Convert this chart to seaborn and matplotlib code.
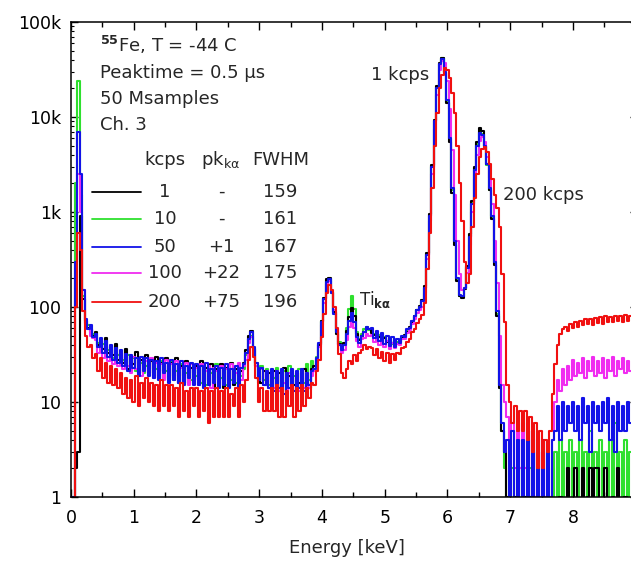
import numpy as np
import pandas as pd
import matplotlib
matplotlib.use('Agg')
import matplotlib.pyplot as plt
import seaborn as sns
from matplotlib.ticker import FixedLocator, FixedFormatter, LogLocator, MultipleLocator, NullFormatter

# spectra, one value per 0.04 keV channel (rows of 10 channels = 0.4 keV)
channel_kev = 0.04

counts_1 = [
    0, 0, 2, 3, 900, 120, 72, 60, 58, 50,
    55, 40, 44, 36, 47, 33, 39, 31, 41, 28,
    33, 26, 36, 22, 30, 25, 34, 20, 28, 24,
    31, 20, 27, 22, 30, 18, 26, 21, 29, 17,
    26, 19, 29, 16, 24, 19, 27, 16, 23, 20,
    24, 17, 27, 15, 23, 17, 25, 14, 22, 18,
    25, 14, 23, 17, 26, 15, 22, 19, 21, 26,
    35, 50, 56, 36, 24, 19, 16, 21, 15, 20,
    15, 21, 13, 20, 16, 23, 13, 19, 17, 15,
    20, 16, 14, 22, 16, 14, 22, 24, 28, 40,
    72, 125, 195, 200, 145, 88, 52, 41, 38, 42,
    56, 78, 98, 80, 52, 45, 50, 55, 60, 58,
    53, 51, 50, 48, 46, 47, 43, 44, 42, 43,
    41, 45, 47, 51, 54, 61, 70, 80, 94, 102,
    118, 165, 370, 950, 3100, 9300, 21000, 37000, 42000, 29000,
    14000, 5500, 1600, 450, 190, 130, 125, 155, 270, 580,
    1300, 3000, 5500, 7600, 7200, 5000, 3200, 1700, 850, 280,
    80, 14, 5, 3, 1, 0, 0, 1, 0, 0,
    0, 1, 0, 0, 0, 1, 0, 0, 0, 0,
    0, 0, 0, 0, 0, 1, 0, 0, 2, 0,
    0, 2, 0, 0, 2, 0, 1, 2, 0, 2,
    2, 0, 0, 2, 0, 0, 1, 0, 2, 0,
    0, 1, 0, 0,
]

counts_10 = [
    0, 0, 2000, 24000, 1500, 130, 68, 64, 55, 52,
    48, 42, 37, 41, 36, 35, 38, 29, 36, 31,
    30, 28, 25, 31, 22, 29, 21, 28, 26, 20,
    24, 25, 27, 19, 22, 25, 27, 18, 21, 24,
    27, 17, 21, 23, 25, 16, 20, 24, 17, 22,
    19, 23, 16, 24, 15, 23, 20, 15, 25, 17,
    18, 22, 15, 24, 17, 21, 16, 23, 19, 22,
    31, 46, 50, 37, 26, 16, 24, 17, 22, 15,
    17, 18, 23, 13, 19, 21, 15, 24, 16, 19,
    16, 22, 18, 16, 25, 17, 27, 21, 30, 41,
    71, 122, 190, 198, 142, 86, 54, 43, 36, 41,
    60, 95, 130, 95, 55, 46, 52, 58, 62, 57,
    56, 52, 49, 51, 45, 48, 44, 46, 41, 44,
    43, 43, 48, 49, 56, 60, 72, 79, 93, 98,
    115, 158, 360, 920, 3050, 9100, 20500, 36500, 41500, 29500,
    14500, 5800, 1700, 480, 195, 132, 128, 158, 265, 560,
    1250, 2900, 5200, 7000, 6700, 4800, 3100, 1700, 870, 290,
    85, 15, 5, 2, 0, 0, 2, 0, 1, 2,
    0, 1, 0, 2, 0, 0, 1, 0, 0, 1,
    0, 1, 0, 3, 0, 4, 1, 3, 0, 4,
    1, 3, 0, 4, 1, 3, 0, 5, 1, 3,
    0, 4, 1, 3, 0, 4, 1, 6, 0, 3,
    1, 4, 0, 3,
]

counts_50 = [
    0, 1, 300, 7000, 2500, 150, 75, 58, 64, 48,
    52, 38, 47, 33, 44, 30, 40, 28, 37, 26,
    35, 24, 32, 21, 31, 23, 29, 19, 30, 21,
    29, 19, 28, 18, 27, 17, 29, 20, 26, 16,
    28, 17, 25, 16, 27, 15, 24, 18, 26, 15,
    25, 15, 24, 14, 26, 15, 22, 16, 24, 14,
    23, 15, 25, 14, 22, 16, 24, 14, 23, 25,
    33, 46, 54, 38, 26, 17, 23, 15, 21, 14,
    22, 13, 21, 14, 22, 12, 20, 14, 22, 13,
    21, 14, 22, 13, 20, 15, 21, 22, 29, 42,
    70, 120, 185, 195, 140, 85, 55, 40, 35, 40,
    52, 72, 86, 70, 48, 42, 50, 54, 62, 58,
    60, 47, 56, 44, 53, 41, 50, 39, 48, 38,
    46, 42, 50, 48, 58, 60, 72, 80, 94, 100,
    115, 160, 350, 900, 3000, 9000, 20000, 36000, 41000, 30000,
    15000, 6000, 1800, 500, 200, 135, 130, 160, 260, 550,
    1200, 2800, 5000, 6800, 6500, 5000, 3200, 1800, 900, 300,
    90, 15, 6, 3, 4, 0, 5, 0, 4, 0,
    4, 0, 5, 1, 4, 0, 3, 0, 4, 0,
    3, 0, 4, 5, 9, 4, 10, 5, 9, 6,
    10, 5, 9, 4, 11, 6, 9, 3, 10, 6,
    9, 5, 10, 6, 11, 4, 9, 3, 10, 5,
    9, 5, 10, 6,
]

counts_100 = [
    0, 0, 200, 2500, 1000, 150, 66, 58, 50, 47,
    45, 33, 41, 29, 38, 27, 36, 25, 35, 24,
    33, 22, 31, 24, 20, 30, 22, 28, 19, 27,
    27, 20, 29, 18, 26, 19, 25, 17, 28, 18,
    25, 18, 27, 16, 23, 17, 26, 15, 25, 17,
    23, 15, 25, 16, 21, 24, 14, 23, 21, 15,
    24, 16, 22, 15, 25, 17, 20, 26, 17, 24,
    28, 42, 48, 35, 24, 17, 22, 15, 21, 14,
    19, 14, 21, 13, 19, 16, 12, 20, 15, 13,
    19, 13, 20, 14, 20, 14, 19, 21, 26, 38,
    64, 110, 175, 190, 145, 92, 58, 40, 33, 35,
    45, 62, 70, 60, 44, 38, 46, 47, 52, 49,
    51, 43, 48, 40, 46, 38, 44, 36, 42, 37,
    41, 40, 46, 46, 53, 57, 66, 74, 86, 92,
    100, 140, 320, 800, 2500, 7500, 17000, 31000, 39000, 37000,
    24000, 12000, 4500, 1500, 500, 220, 150, 160, 230, 450,
    1000, 2200, 4000, 5600, 6200, 5500, 3800, 2300, 1200, 500,
    180, 50, 15, 10, 7, 3, 6, 2, 5, 2,
    6, 2, 4, 1, 5, 1, 3, 1, 2, 1,
    2, 1, 4, 10, 17, 13, 22, 15, 24, 17,
    28, 19, 26, 20, 29, 18, 27, 21, 30, 19,
    27, 20, 29, 18, 28, 21, 30, 19, 27, 22,
    29, 20, 27, 21,
]

counts_200 = [
    0, 0, 100, 600, 400, 90, 50, 38, 40, 29,
    32, 21, 29, 18, 26, 16, 24, 15, 22, 14,
    20, 12, 18, 11, 17, 10, 19, 9, 16, 11,
    18, 10, 16, 9, 15, 8, 17, 9, 15, 8,
    15, 9, 14, 7, 16, 8, 13, 7, 14, 9,
    14, 7, 13, 8, 14, 6, 13, 7, 14, 7,
    13, 7, 14, 7, 12, 9, 14, 7, 15, 10,
    17, 28, 38, 30, 18, 10, 14, 8, 13, 8,
    14, 8, 15, 7, 14, 7, 13, 9, 15, 7,
    14, 8, 15, 9, 14, 11, 16, 15, 21, 28,
    48, 85, 140, 170, 150, 100, 60, 32, 20, 18,
    22, 27, 25, 31, 27, 33, 35, 40, 36, 38,
    37, 31, 36, 29, 34, 27, 33, 26, 32, 28,
    33, 32, 37, 38, 43, 46, 54, 58, 68, 74,
    82, 110, 250, 600, 1800, 5000, 11000, 20000, 28000, 33000,
    31000, 26000, 18000, 11000, 5000, 2000, 800, 300, 180, 220,
    700, 1400, 2500, 3800, 4600, 4800, 4300, 3200, 2200, 1500,
    1100, 700, 220, 70, 15, 10, 6, 9, 5, 8,
    5, 8, 4, 7, 3, 6, 2, 5, 2, 4,
    3, 5, 12, 25, 40, 52, 58, 62, 56, 66,
    60, 70, 62, 72, 64, 74, 66, 75, 65, 77,
    68, 78, 67, 80, 70, 79, 69, 81, 71, 80,
    70, 82, 72, 80,
]

rates = ['1', '10', '50', '100', '200']
pk_shift = ['-', '-', '+1', '+22', '+75']
fwhm = ['159', '161', '167', '175', '196']
colors = ['#000000', '#2ee02e', '#1212e8', '#f02cf0', '#f01010']
draw_order = ['10', '1', '100', '50', '200']

xticks = [0, 1, 2, 3, 4, 5, 6, 7, 8]
ytick_vals = [1, 10, 100, 1000, 10000, 100000]
ytick_labels = ['1', '10', '100', '1k', '10k', '100k']

series = [counts_1, counts_10, counts_50, counts_100, counts_200]
frames = []
for r, c in zip(rates, series):
    energy = np.arange(len(c)) * channel_kev
    frames.append(pd.DataFrame({'energy': energy, 'counts': c, 'rate': r}))
df = pd.concat(frames, ignore_index=True)

sns.set_style('ticks')
plt.rcParams['font.family'] = ['DejaVu Sans']
plt.rcParams['mathtext.fontset'] = 'dejavusans'

fig = plt.figure(figsize=(6.31, 5.64), dpi=100)
ax = fig.add_axes([0.1125, 0.1188, 0.8970, 0.8422])

sns.lineplot(data=df, x='energy', y='counts', hue='rate', hue_order=draw_order,
             palette=dict(zip(rates, colors)), estimator=None, sort=False,
             drawstyle='steps-mid', lw=1.5, legend=False, ax=ax)

ax.set_yscale('log')
ax.set_ylim(1, 100000)
ax.set_xlim(0, 9.02)

ax.yaxis.set_major_locator(FixedLocator(ytick_vals))
ax.yaxis.set_major_formatter(FixedFormatter(ytick_labels))
ax.yaxis.set_minor_locator(LogLocator(base=10, subs=np.arange(2, 10) * 1.0, numticks=20))
ax.yaxis.set_minor_formatter(NullFormatter())
ax.xaxis.set_major_locator(FixedLocator(xticks))
ax.xaxis.set_minor_locator(MultipleLocator(0.5))

ax.tick_params(which='both', direction='in', top=True, right=False, colors='black', labelsize=12.5)
ax.tick_params(axis='y', which='major', right=True)
ax.tick_params(axis='x', which='major', length=5.8, width=1.0, pad=9)
ax.tick_params(axis='x', which='minor', length=3.6, width=1.0)
ax.tick_params(axis='y', which='major', length=5, width=1.0, pad=7)
ax.tick_params(axis='y', which='minor', length=2.2, width=0.8)
for s in ['left', 'bottom', 'top']:
    ax.spines[s].set_linewidth(1.1)
    ax.spines[s].set_color('black')
ax.spines['right'].set_visible(False)

ax.set_xlabel('Energy [keV]', fontsize=13)
ax.set_ylabel('')
ax.xaxis.set_label_coords(0.487, -0.088)

# info block
fs = 13
ax.text(0.051, 0.952, r'$^{\mathbf{55}}$Fe, T = -44 C', transform=ax.transAxes, fontsize=fs, va='center')
ax.text(0.051, 0.893, 'Peaktime = 0.5 µs', transform=ax.transAxes, fontsize=fs, va='center')
ax.text(0.051, 0.838, '50 Msamples', transform=ax.transAxes, fontsize=fs, va='center')
ax.text(0.051, 0.783, 'Ch. 3', transform=ax.transAxes, fontsize=fs, va='center')

# table legend
col_rate, col_pk, col_fwhm = 0.166, 0.265, 0.370
ax.text(col_rate, 0.709, 'kcps', transform=ax.transAxes, fontsize=fs, va='center', ha='center')
ax.text(col_pk, 0.709, r'pk$_{\mathrm{k\alpha}}$', transform=ax.transAxes, fontsize=fs, va='center', ha='center')
ax.text(col_fwhm, 0.709, 'FWHM', transform=ax.transAxes, fontsize=fs, va='center', ha='center')
row_y = [0.642, 0.585, 0.526, 0.472, 0.411]
for r, pk, fw, c, y in zip(rates, pk_shift, fwhm, colors, row_y):
    ax.plot([0.037, 0.124], [y, y], transform=ax.transAxes, color=c, lw=1.3, clip_on=False)
    ax.text(col_rate, y, r, transform=ax.transAxes, fontsize=fs, va='center', ha='center')
    ax.text(col_pk, y, pk, transform=ax.transAxes, fontsize=fs, va='center', ha='center')
    ax.text(col_fwhm, y, fw, transform=ax.transAxes, fontsize=fs, va='center', ha='center')

ax.text(0.581, 0.888, '1 kcps', transform=ax.transAxes, fontsize=fs, va='center', ha='center')
ax.text(0.763, 0.636, '200 kcps', transform=ax.transAxes, fontsize=fs, va='center', ha='left')
ax.text(0.508, 0.415, r'Ti$_{\mathbf{k\alpha}}$', transform=ax.transAxes, fontsize=12, va='center', ha='left')

fig.savefig('out.png', dpi=100)
